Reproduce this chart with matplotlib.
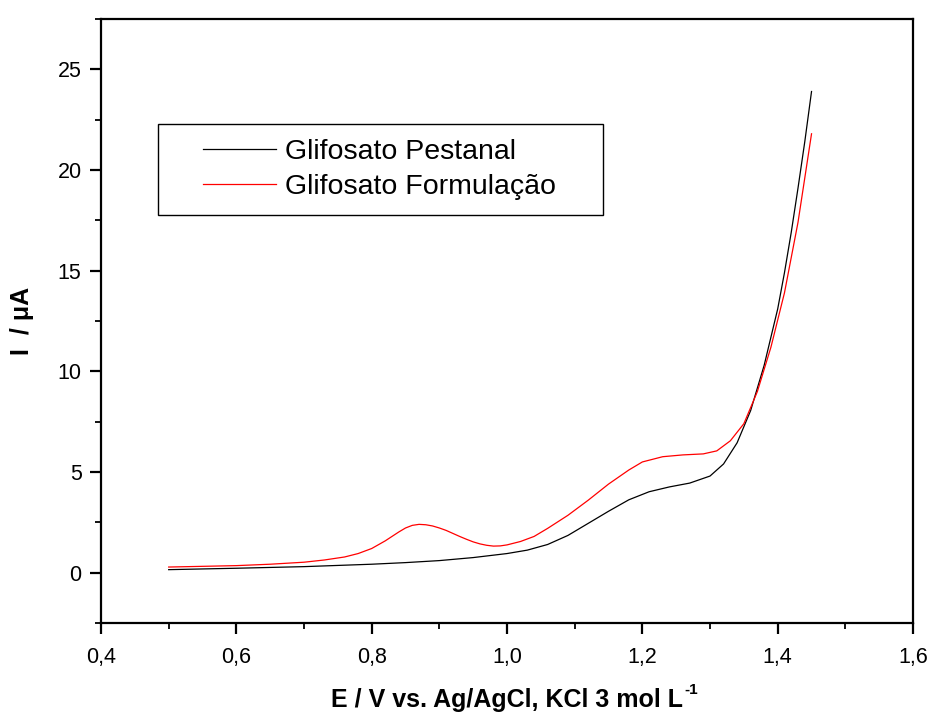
import matplotlib.pyplot as plt
from matplotlib.ticker import MultipleLocator, FuncFormatter
from matplotlib.patches import Rectangle

plt.rcParams['font.family'] = ['Liberation Sans', 'DejaVu Sans']

# Glifosato Pestanal (black)
e_pestanal = [0.50, 0.60, 0.70, 0.80, 0.85, 0.90, 0.95, 1.00, 1.03, 1.06, 1.09,
              1.12, 1.15, 1.18, 1.21, 1.24, 1.27, 1.30, 1.32, 1.34, 1.36, 1.38,
              1.40, 1.41, 1.42, 1.43, 1.44, 1.45]
i_pestanal = [0.15, 0.22, 0.30, 0.42, 0.50, 0.60, 0.75, 0.95, 1.12, 1.40, 1.85,
              2.45, 3.05, 3.62, 4.02, 4.26, 4.45, 4.80, 5.40, 6.45, 8.05, 10.3,
              13.1, 14.9, 16.9, 19.1, 21.4, 23.9]

# Glifosato Formulacao (red)
e_formulacao = [0.50, 0.60, 0.65, 0.70, 0.73, 0.76, 0.78, 0.80, 0.82, 0.83, 0.84,
                0.85, 0.86, 0.87, 0.88, 0.89, 0.90, 0.91, 0.92, 0.93, 0.94, 0.95,
                0.96, 0.97, 0.98, 0.99, 1.00, 1.02, 1.04, 1.06, 1.09, 1.12, 1.15,
                1.18, 1.20, 1.23, 1.26, 1.29, 1.31, 1.33, 1.35, 1.37, 1.39, 1.41,
                1.43, 1.45]
i_formulacao = [0.28, 0.35, 0.42, 0.52, 0.63, 0.78, 0.95, 1.20, 1.58, 1.80, 2.02,
                2.22, 2.35, 2.40, 2.38, 2.32, 2.22, 2.10, 1.95, 1.80, 1.66, 1.53,
                1.43, 1.36, 1.32, 1.33, 1.38, 1.55, 1.80, 2.20, 2.85, 3.60, 4.40,
                5.10, 5.50, 5.76, 5.85, 5.90, 6.05, 6.55, 7.40, 9.00, 11.2, 13.9,
                17.4, 21.8]

fig = plt.figure(figsize=(9.31, 7.18), dpi=100)
ax = fig.add_axes([0.1085, 0.1323, 0.8722, 0.8412])

ax.plot(e_pestanal, i_pestanal, color='black', lw=0.9, label='Glifosato Pestanal')
ax.plot(e_formulacao, i_formulacao, color='red', lw=0.9, label='Glifosato Formulação')

ax.set_xlim(0.4, 1.6)
ax.set_ylim(-2.5, 27.5)
ax.xaxis.set_major_locator(MultipleLocator(0.2))
ax.xaxis.set_minor_locator(MultipleLocator(0.1))
ax.yaxis.set_major_locator(MultipleLocator(5))
ax.yaxis.set_minor_locator(MultipleLocator(2.5))
ax.xaxis.set_major_formatter(FuncFormatter(lambda v, p: f"{v:.1f}".replace('.', ',')))
ax.yaxis.set_major_formatter(FuncFormatter(lambda v, p: f"{v:.0f}"))

for s in ax.spines.values():
    s.set_linewidth(1.6)
ax.tick_params(which='major', direction='out', length=8, width=1.6, labelsize=15.5)
ax.tick_params(which='minor', direction='out', length=4, width=1.3)
ax.tick_params(axis='x', which='major', pad=9)
ax.tick_params(axis='y', which='major', pad=6)
ax.tick_params(which='both', top=False, right=False)

ax.set_xlabel('E / V vs. Ag/AgCl, KCl 3 mol L', fontsize=18, fontweight='bold', va='top')
ax.xaxis.set_label_coords(0.5, -0.108)
ax.set_ylabel('I  / μA', fontsize=18, fontweight='bold')
ax.yaxis.set_label_coords(-0.082, 0.5)

# legend frame drawn separately to keep the wide left margin
ax.add_patch(Rectangle((0.0702, 0.6755), 0.548, 0.1505, transform=ax.transAxes,
                       fill=False, edgecolor='black', lw=1.0, zorder=3))
ax.legend(loc='center left', bbox_to_anchor=(0.1256, 0.7508), fontsize=20.5,
          frameon=False, handlelength=2.56, handletextpad=0.32, borderpad=0,
          labelspacing=0.32, borderaxespad=0)

# superscript after the x label
fig.canvas.draw()
bb = ax.xaxis.label.get_window_extent()
fig.text(bb.x1 / fig.bbox.width + 0.001, (bb.y1 - 2) / fig.bbox.height, '-1',
         fontsize=11, fontweight='bold', va='center', ha='left')

fig.savefig('out.png', dpi=100)
